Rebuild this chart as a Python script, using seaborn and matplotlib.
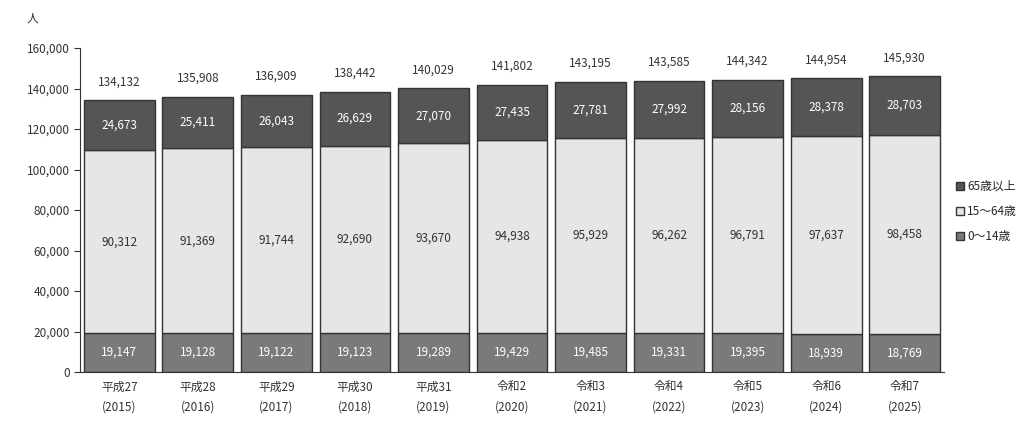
import matplotlib
matplotlib.use("Agg")
import matplotlib.pyplot as plt
import seaborn as sns
import numpy as np

# === Data ===
years = ["平成27\n(2015)", "平成28\n(2016)", "平成29\n(2017)", "平成30\n(2018)", "平成31\n(2019)",
         "令和2\n(2020)", "令和3\n(2021)", "令和4\n(2022)", "令和5\n(2023)", "令和6\n(2024)", "令和7\n(2025)"]
age_0_14 = [19147, 19128, 19122, 19123, 19289, 19429, 19485, 19331, 19395, 18939, 18769]
age_15_64 = [90312, 91369, 91744, 92690, 93670, 94938, 95929, 96262, 96791, 97637, 98458]
age_65 = [24673, 25411, 26043, 26629, 27070, 27435, 27781, 27992, 28156, 28378, 28703]
legend_labels = ["65歳以上", "15～64歳", "0～14歳"]

# === Style ===
sns.set_style("white")
plt.rcParams["font.family"] = ["Noto Sans CJK JP", "DejaVu Sans"]

c_low, c_mid, c_top = "#7a7a7a", "#e6e6e6", "#555555"

fig = plt.figure(figsize=(10.27, 4.23), dpi=100)
ax = fig.add_axes([80 / 1027, 51 / 423, 864 / 1027, 324 / 423])

low = np.array(age_0_14)
mid = np.array(age_15_64)
top = np.array(age_65)
total = low + mid + top

sns.barplot(x=years, y=low, color=c_low, width=0.9, edgecolor="#333333", linewidth=1, ax=ax, label=legend_labels[2])
sns.barplot(x=years, y=mid, bottom=low, color=c_mid, width=0.9, edgecolor="#333333", linewidth=1, ax=ax, label=legend_labels[1])
sns.barplot(x=years, y=top, bottom=low + mid, color=c_top, width=0.9, edgecolor="#333333", linewidth=1, ax=ax, label=legend_labels[0])

for i in range(len(years)):
    ax.text(i, low[i] / 2, f"{low[i]:,}", ha="center", va="center", fontsize=8.5, color="white")
    ax.text(i, low[i] + mid[i] / 2, f"{mid[i]:,}", ha="center", va="center", fontsize=8.5, color="#333333")
    ax.text(i, low[i] + mid[i] + top[i] / 2, f"{top[i]:,}", ha="center", va="center", fontsize=8.5, color="white")
    ax.text(i, total[i] + 6000, f"{total[i]:,}", ha="center", va="bottom", fontsize=8.5, color="#333333")

ax.set_ylim(0, 160000)
ax.set_xlim(-0.5, len(years) - 0.5)
ax.set_yticks(range(0, 160001, 20000))
ax.set_yticklabels([f"{v:,}" for v in range(0, 160001, 20000)], fontsize=8.5, color="#333333")
ax.set_xticks(range(len(years)))
ax.set_xticklabels(years, fontsize=8.5, color="#333333", linespacing=1.7)
ax.tick_params(axis="x", length=0, pad=6)
ax.tick_params(axis="y", left=True, length=4, color="#333333")
for s in ["top", "right"]:
    ax.spines[s].set_visible(False)
ax.spines["left"].set_color("#333333")
ax.spines["bottom"].set_color("#333333")

fig.text(32 / 1027, 1 - 18 / 423, "人", ha="center", va="center", fontsize=8.5, color="#333333")

if ax.legend_:
    ax.legend_.remove()
handles, labels = ax.get_legend_handles_labels()
order = [labels.index(l) for l in legend_labels]
fig.legend([handles[k] for k in order], legend_labels, loc="center left",
           bbox_to_anchor=(945 / 1027, 0.5), frameon=False, fontsize=8.5,
           handlelength=0.7, handleheight=0.7, handletextpad=0.3, labelspacing=1.0)

fig.savefig("out.png", dpi=100)
